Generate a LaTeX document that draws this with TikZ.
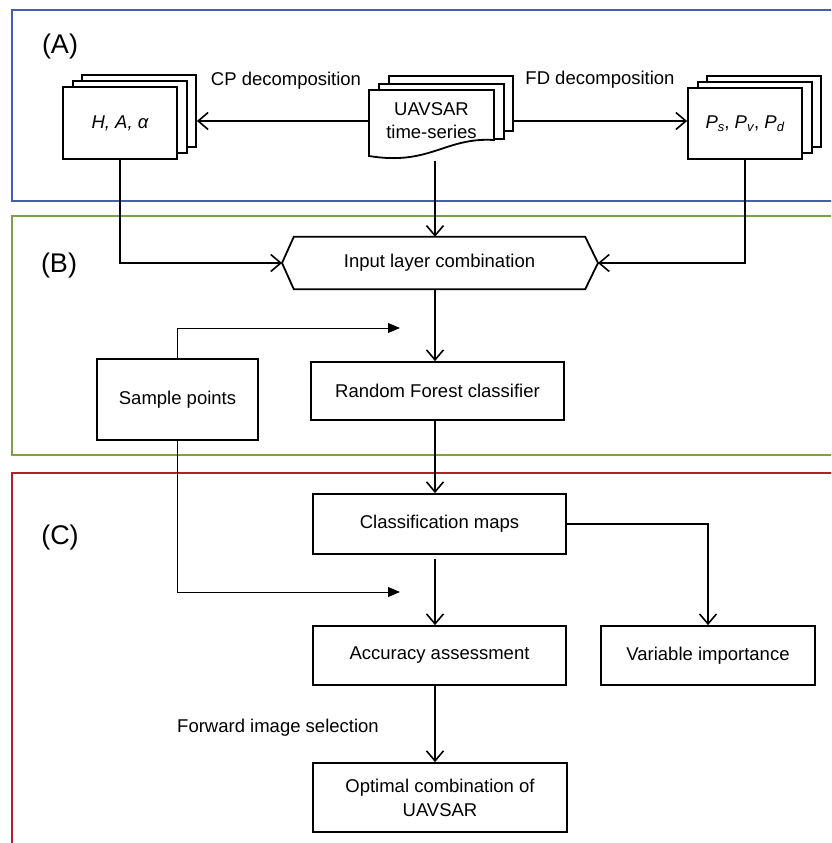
\documentclass[tikz,border=0pt]{standalone}
\usepackage{fontspec}
\setmainfont{Liberation Sans}
\usetikzlibrary{arrows.meta,calc}
\definecolor{pblue}{RGB}{72,92,178}
\definecolor{pgreen}{RGB}{122,160,72}
\definecolor{pred}{RGB}{178,32,42}
\newcommand{\normsz}{\fontsize{18.5}{24}\selectfont}
\newcommand{\bigsz}{\fontsize{27}{30}\selectfont}
\newcommand{\Psub}[1]{\textit{P}\raisebox{-0.35ex}{\fontsize{13}{13}\selectfont\textit{#1}}}
\begin{document}
\begin{tikzpicture}[x=1pt,y=-1pt,
  box/.style={draw, line width=1.8pt, fill=white, inner sep=0pt, align=center, font=\normsz},
  conn/.style={line width=1.6pt, -{Straight Barb[length=10pt,width=17pt]}},
  thinarr/.style={line width=1pt, -{Triangle[length=12pt,width=10pt]}},
  panel/.style={line width=2pt},
  lbl/.style={font=\normsz, inner sep=0pt},
  plbl/.style={font=\bigsz, inner sep=0pt}]
\useasboundingbox (0,0) rectangle (831,843);
\clip (0,0) rectangle (831,843);
% panels
\draw[panel, pblue] (12,10) rectangle (860,201);
\draw[panel, pgreen] (12,216) rectangle (860,455);
\draw[panel, pred] (12,473) rectangle (860,900);
\node[plbl] (la) at (60,47) {(A)};
\node[plbl] (lb) at (59,266) {(B)};
\node[plbl] (lc) at (60,538) {(C)};
% H, A, alpha stack
\node[box, minimum width=114pt, minimum height=72pt] (h3) at (139,111) {};
\node[box, minimum width=114pt, minimum height=72pt] (h2) at (130,117) {};
\node[box, minimum width=114pt, minimum height=72pt] (hb) at (120,123) {\raisebox{-3pt}{\itshape H, A, α}};
% P stack
\node[box, minimum width=114pt, minimum height=71pt] (p3) at (764,111.5) {};
\node[box, minimum width=114pt, minimum height=71pt] (p2) at (755,117.5) {};
\node[box, minimum width=114pt, minimum height=71pt] (pb) at (745,123.5) {\raisebox{-3pt}{\Psub{s}, \Psub{v}, \Psub{d}}};
% UAVSAR stack
\node[box, minimum width=124pt, minimum height=55pt] (u3) at (451,103.5) {};
\node[box, minimum width=125pt, minimum height=55pt] (u2) at (441.5,111.5) {};
\draw[line width=1.8pt, fill=white] (369,90) -- (494,90) -- (494,140)
  .. controls (445,137) and (430,166) .. (369,156) -- cycle;
\node[lbl, minimum width=125pt, minimum height=66pt, align=center, font=\fontsize{18.5}{23}\selectfont] (uav) at (431.5,121) {UAVSAR\\time-series};
% labels
\node[lbl] (cp) at (286,81) {CP decomposition};
\node[lbl] (fd) at (600,80) {FD decomposition};
\node[lbl] (fw) at (278,728) {Forward image selection};
% hexagon
\node[lbl, minimum width=291pt, minimum height=52pt] (inp) at (439.5,263) {Input layer combination};
\coordinate (hexL) at (282,263);
\coordinate (hexR) at (598,263);
\draw[line width=1.8pt] (inp.north west) -- (inp.north east) -- (hexR) -- (inp.south east)
  -- (inp.south west) -- (hexL) -- cycle;
% other boxes
\node[box, minimum width=161pt, minimum height=81pt] (sp) at (177.5,399.5) {Sample points};
\node[box, minimum width=253pt, minimum height=58pt] (rf) at (437.5,391) {Random Forest classifier};
\node[box, minimum width=253pt, minimum height=60pt] (cls) at (439.5,524) {Classification maps};
\node[box, minimum width=253pt, minimum height=59pt] (acc) at (439.5,655.5) {Accuracy assessment};
\node[box, minimum width=214pt, minimum height=59pt] (vi) at (708,655.5) {Variable importance};
\node[box, minimum width=254pt, minimum height=69pt] (opt) at (440,797.5) {Optimal combination of\\UAVSAR};
% connectors
\coordinate (trunk) at (435,0);
\coordinate (ubot) at (435,161);
\coordinate (cbot) at (435,559);
\coordinate (sa1) at (400,328);
\coordinate (sa2) at (400,592);
\draw[conn] (uav.west) -- (h3.east |- uav.west);
\draw[conn] (u3.east |- uav.east) -- (pb.west |- uav.east);
\draw[conn] (ubot) -- (inp.north -| ubot);
\draw[conn] (hb.south) |- (hexL);
\draw[conn] (pb.south) |- (hexR);
\draw[conn] (inp.south -| trunk) -- (rf.north -| trunk);
\draw[conn] (rf.south -| trunk) -- (cls.north -| trunk);
\draw[conn] (cbot) -- (acc.north -| trunk);
\draw[conn] (cls.east) -| (vi.north);
\draw[conn] (acc.south -| trunk) -- (opt.north -| trunk);
\draw[thinarr] (sp.north) |- (sa1);
\draw[thinarr] (sp.south) |- (sa2);
\end{tikzpicture}
\end{document}
